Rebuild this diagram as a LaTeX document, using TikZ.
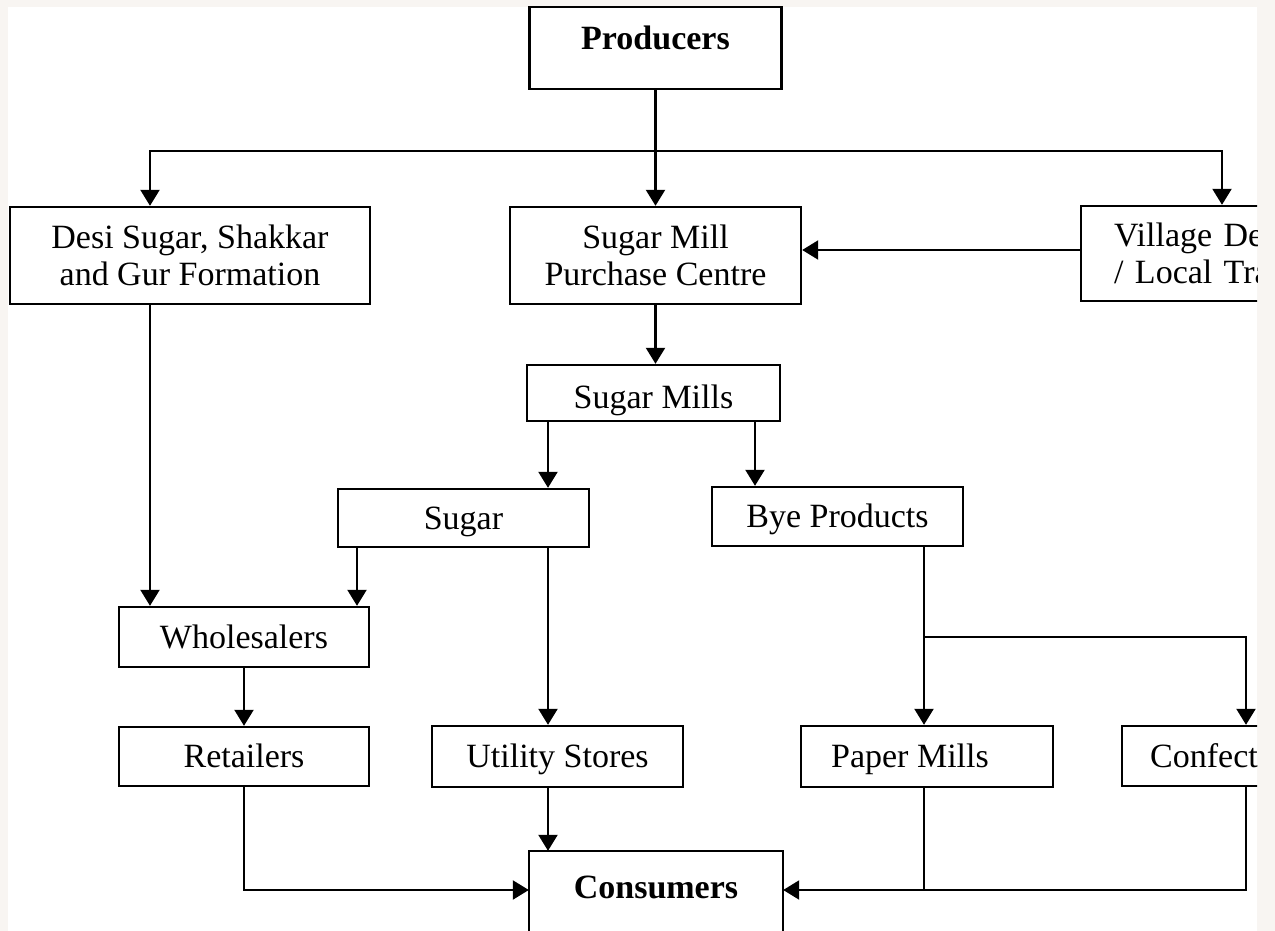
\documentclass[tikz,border=0pt]{standalone}
\usepackage{fontspec}
\setmainfont{Liberation Serif}
\usetikzlibrary{arrows.meta}
\definecolor{pagemargin}{HTML}{F8F5F2}

\begin{document}
\begin{tikzpicture}[x=0.5pt,y=-0.5pt,
  font=\fontsize{17pt}{18.5pt}\selectfont,
  box/.style={draw=black, line width=1.2pt, fill=white, inner sep=0pt, align=center},
  one/.style={box, text height=11.25pt, text depth=0pt},
  link/.style={line width=1.1pt, draw=black},
  arr/.style={link, -{Triangle[width=9.5pt,length=8pt]}}]

\useasboundingbox (0,0) rectangle (1275,931);
\fill[pagemargin] (0,0) rectangle (1275,931);
\fill[white] (8,7) rectangle (1257,931);

\begin{scope}
\clip (0,0) rectangle (1257,931);

% boxes
\node[one, minimum width=126pt, minimum height=41pt, text depth=9.25pt] (prod) at (655.5,48) {\bfseries Producers};
\node[box, minimum width=180pt, minimum height=48.5pt] (desi) at (190,255.5) {Desi Sugar, Shakkar\\and Gur Formation};
\node[box, minimum width=145.5pt, minimum height=48.5pt] (smpc) at (655.5,255.5) {Sugar Mill\\Purchase Centre};
\node[box, anchor=west, minimum width=150pt, minimum height=47.5pt, align=left, text width=117pt] (vill) at (1080,253.5) {Village De\\/ Local Tra};
\node[one, minimum width=126.5pt, minimum height=28pt, text height=15pt] (sm) at (653.5,393) {Sugar Mills};
\node[one, minimum width=125.5pt, minimum height=29pt] (sugar) at (463.5,518) {Sugar};
\node[one, minimum width=125.5pt, minimum height=29.5pt] (bye) at (837.5,516.5) {Bye Products};
\node[one, minimum width=125pt, minimum height=30pt] (whole) at (244,637) {Wholesalers};
\node[one, minimum width=125pt, minimum height=29.5pt] (ret) at (244,756.5) {Retailers};
\node[one, minimum width=125.5pt, minimum height=30.5pt] (util) at (557.5,756.5) {Utility Stores};
\node[one, minimum width=126pt, minimum height=30.5pt] (paper) at (927,756.5) {Paper Mills\hspace*{17pt}};
\node[box, anchor=west, minimum width=150pt, minimum height=30pt, align=left, text width=122pt, text height=11.25pt, text depth=0pt] (conf) at (1121,756) {Confect};
\node[one, draw=none, fill=none, minimum width=126pt, minimum height=38pt, text depth=3.25pt] (cons) at (656,890) {\bfseries Consumers};
\draw[line width=1.2pt] ([yshift=-12pt]cons.south west) -- (cons.north west) -- (cons.north east) -- ([yshift=-12pt]cons.south east);

% producers to the three buyers
\coordinate (hub) at (prod.south |- 0,151);
\coordinate (dtop) at ([xshift=-20pt]desi.north);
\coordinate (vtop) at ([xshift=71pt]vill.north west);
\draw[arr] (prod) -- (smpc);
\draw[arr] (hub) -| (dtop);
\draw[arr] (hub) -| (vtop);
\coordinate (vin) at ([yshift=1.75pt]vill.west);
\draw[arr] (vin) -- (vin -| smpc.east);

% mills and their outputs
\draw[arr] (smpc.south) -- (smpc.south |- sm.north);
\coordinate (s1) at ([xshift=42.25pt]sugar.north);
\draw[arr] (s1 |- sm.south) -- (s1);
\coordinate (b1) at ([xshift=-41.25pt]bye.north);
\draw[arr] (b1 |- sm.south) -- (b1);

% trade channels
\coordinate (w1) at ([xshift=-47pt]whole.north);
\draw[arr] (w1 |- desi.south) -- (w1);
\coordinate (w2) at ([xshift=56.5pt]whole.north);
\draw[arr] (w2 |- sugar.south) -- (w2);
\coordinate (u1) at ([xshift=-4.75pt]util.north);
\draw[arr] (u1 |- sugar.south) -- (u1);
\draw[arr] (whole) -- (ret);
\coordinate (p1) at ([xshift=-1.5pt]paper.north);
\draw[arr] (p1 |- bye.south) -- (p1);
\coordinate (fork) at (p1 |- 0,637);
\coordinate (c1) at ([xshift=62.5pt]conf.north west);
\draw[arr] (fork) -| (c1);

% to consumers
\draw[arr] (u1 |- util.south) -- (u1 |- cons.north);
\draw[arr] (ret) |- (cons.west);
\draw[arr] (c1 |- conf.south) |- (cons.east);
\draw[link] (p1 |- paper.south) -- (p1 |- cons.east);
\end{scope}
\end{tikzpicture}
\end{document}
